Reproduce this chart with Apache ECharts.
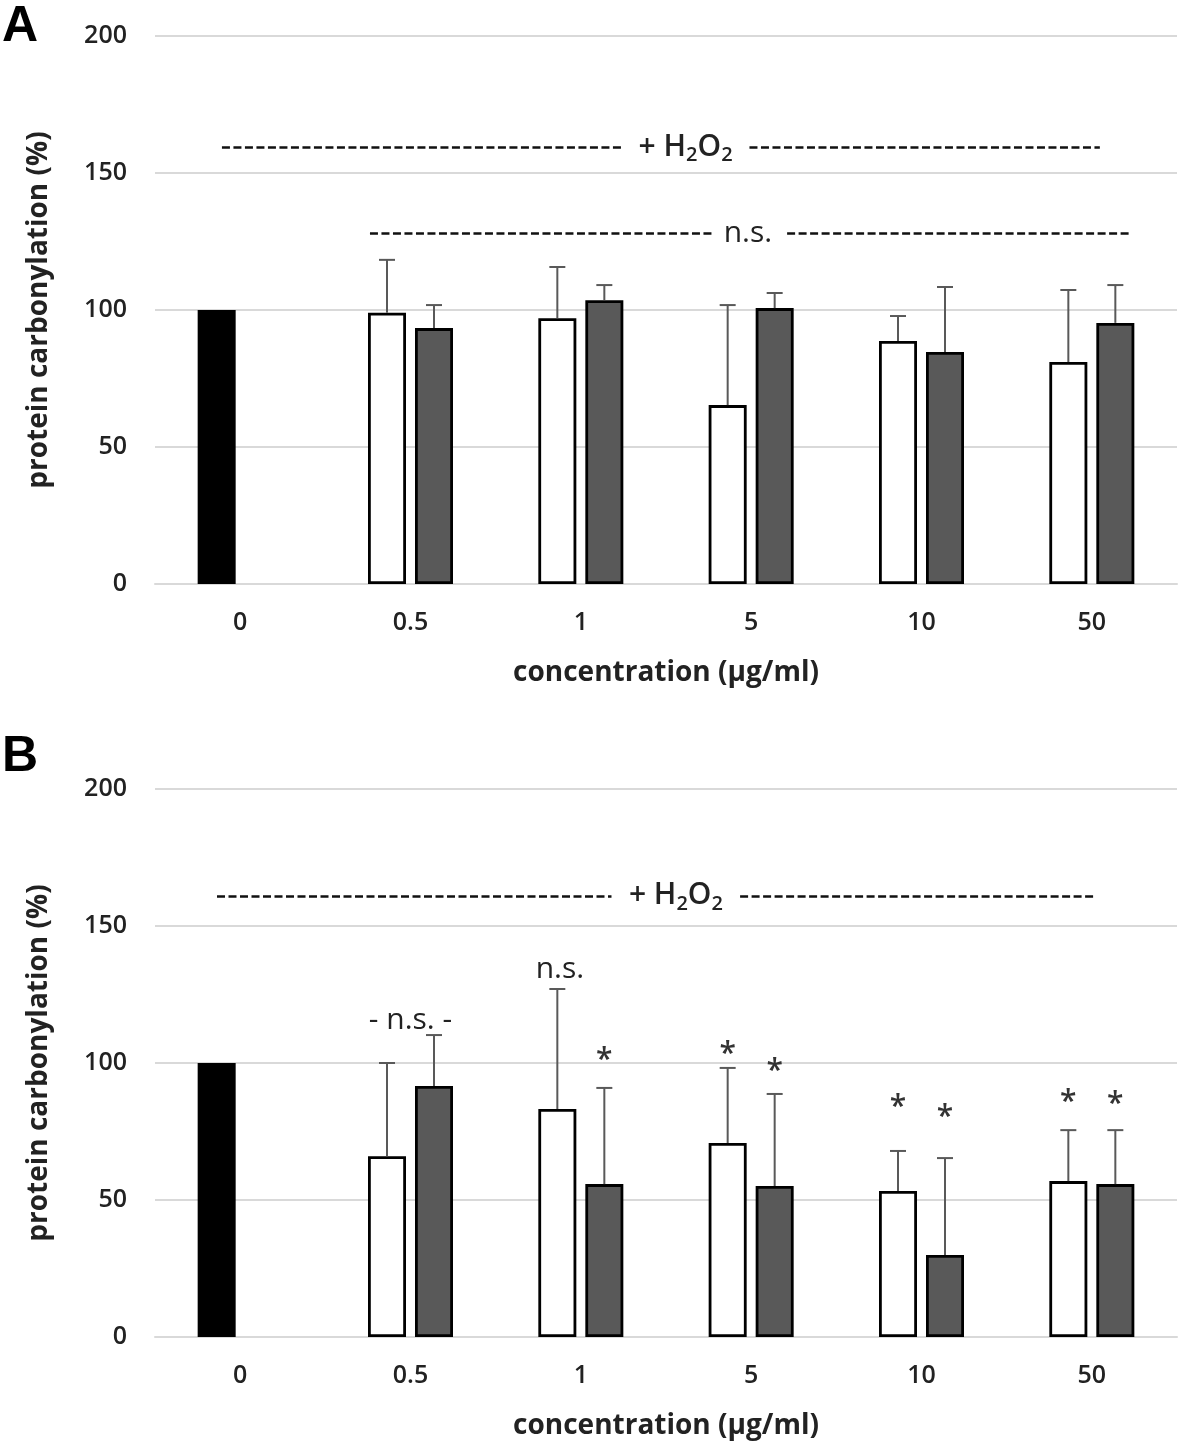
<!DOCTYPE html>
<html>
<head>
<meta charset="utf-8">
<script src="https://cdn.jsdelivr.net/npm/echarts@6/dist/echarts.min.js"></script>
<style>html,body{margin:0;padding:0;background:#fff}#c{width:1181px;height:1446px}</style>
</head>
<body>
<div id="c"></div>
<script>
// ---------- data ----------
var categories = ['0', '0.5', '1', '5', '10', '50'];
var yTicks = [0, 50, 100, 150, 200];

// Panel A
var controlA = [100, null, null, null, null, null];
var whiteA = [null, 99, 97, 65.3, 88.7, 81];
var whiteErrA = [null, 19.3, 18.7, 36.5, 9.1, 26.3];
var darkA = [null, 93.4, 103.6, 100.7, 84.7, 95.3];
var darkErrA = [null, 8.4, 5.5, 5.5, 23.7, 13.8];

// Panel B
var controlB = [100, null, null, null, null, null];
var whiteB = [null, 66, 83.2, 70.8, 53.3, 56.9];
var whiteErrB = [null, 34, 43.8, 27.4, 14.6, 18.6];
var darkB = [null, 91.6, 55.8, 55.1, 29.9, 55.8];
var darkErrB = [null, 18.6, 35.1, 33.6, 35.4, 19.7];

// significance stars in B: [category index, height, side (-1 white, 1 dark)]
var starsB = [[2, 103.6, 1], [3, 105.8, -1], [3, 99.3, 1], [4, 86.5, -1], [4, 82.8, 1], [5, 88.3, -1], [5, 87.6, 1]];

// annotations (hidden value x-axis, category i at x=i)
var dashA = [[-0.107, 2.255, 159.5], [2.99, 5.047, 159.5], [0.762, 2.77, 128], [3.211, 5.217, 128]];
var textA = [[2.615, 159.5, 'h2o2'], [2.981, 128, 'n.s.']];
var dashB = [[-0.136, 2.18, 161], [2.935, 5.018, 161]];
var textB = [[2.558, 161, 'h2o2'], [1.0, 115.7, '- n.s. -'], [1.877, 134, 'n.s.']];

// ---------- chart ----------
var FONT = 'Open Sans';
var BAR_W = 38, SIDE = 23.5;
var chart = echarts.init(document.getElementById('c'), null, {renderer: 'canvas'});

var grids = [
  {left: 155, top: 36, width: 1022, height: 548},
  {left: 155, top: 789, width: 1022, height: 548}
];

function catAxis(g) {
  return {
    type: 'category', gridIndex: g, data: categories,
    axisTick: {show: false},
    axisLine: {lineStyle: {color: '#d9d9d9', width: 2}},
    axisLabel: {fontFamily: FONT, fontSize: 25, fontWeight: 600, color: '#222', margin: 26},
    name: 'concentration (µg/ml)', nameLocation: 'middle', nameGap: 75,
    nameTextStyle: {fontFamily: FONT, fontSize: 28, fontWeight: 'bold', color: '#222'}
  };
}
function valXAxis(g) {
  return {type: 'value', gridIndex: g, min: -0.5, max: 5.5, show: false};
}
function yAxis(g) {
  return {
    type: 'value', gridIndex: g, min: 0, max: 200, interval: 50,
    axisLine: {show: false}, axisTick: {show: false},
    splitLine: {lineStyle: {color: '#d9d9d9', width: 2}},
    axisLabel: {fontFamily: FONT, fontSize: 25, fontWeight: 600, color: '#222', margin: 28,
      formatter: function (v) { return yTicks.indexOf(v) >= 0 ? String(v) : ''; }},
    name: 'protein carbonylation (%)', nameLocation: 'middle', nameGap: 102,
    nameTextStyle: {fontFamily: FONT, fontSize: 28, fontWeight: 'bold', color: '#222'}
  };
}

function zip(m, e) {
  var out = [];
  for (var i = 0; i < m.length; i++) if (m[i] != null) out.push([i, m[i], e[i]]);
  return out;
}

function errSeries(g, mean, err, side) {
  return {
    type: 'custom', xAxisIndex: g * 2, yAxisIndex: g, z: 5, silent: true,
    data: zip(mean, err),
    renderItem: function (params, api) {
      var top = api.coord([api.value(0), api.value(1) + api.value(2)]);
      var base = api.coord([api.value(0), api.value(1)]);
      var x = top[0] + side * SIDE;
      var st = {stroke: '#595959', lineWidth: 2};
      return {type: 'group', children: [
        {type: 'line', shape: {x1: x, y1: base[1], x2: x, y2: top[1]}, style: st},
        {type: 'line', shape: {x1: x - 8, y1: top[1], x2: x + 8, y2: top[1]}, style: st}
      ]};
    }
  };
}

function barSeries(g, data, color, stack) {
  return {
    type: 'bar', xAxisIndex: g * 2, yAxisIndex: g, data: data, stack: stack + g,
    barWidth: BAR_W, barGap: (9 / BAR_W * 100) + '%', silent: true,
    itemStyle: {color: color, borderColor: '#000', borderWidth: 2.8}
  };
}

function annotSeries(g, dashes, texts) {
  var lines = dashes.map(function (d) {
    return [{coord: [d[0], d[2]]}, {coord: [d[1], d[2]]}];
  });
  var points = texts.map(function (t) {
    return {coord: [t[0], t[1]], value: t[2]};
  });
  return {
    type: 'line', xAxisIndex: g * 2 + 1, yAxisIndex: g, data: [], silent: true,
    markLine: {
      symbol: ['none', 'none'], silent: true, animation: false,
      lineStyle: {color: '#111', width: 2.6, type: [8, 3.5]},
      label: {show: false}, data: lines
    },
    markPoint: {
      symbol: 'circle', symbolSize: 0, silent: true, animation: false,
      label: {
        show: true, position: 'inside', color: '#222', fontFamily: FONT,
        formatter: function (p) {
          if (p.value === 'h2o2') return '{a|+ H}{s|2}{a|O}{s|2}';
          return '{n|' + p.value + '}';
        },
        rich: {
          a: {fontFamily: FONT, fontSize: 30, fontWeight: 600, color: '#222', lineHeight: 34, verticalAlign: 'middle'},
          s: {fontFamily: FONT, fontSize: 20, fontWeight: 600, color: '#222', lineHeight: 34, padding: [16, 0, 0, 0], verticalAlign: 'middle'},
          n: {fontFamily: FONT, fontSize: 30, color: '#222', lineHeight: 34}
        }
      },
      data: points
    }
  };
}

var starSeries = {
  type: 'custom', xAxisIndex: 2, yAxisIndex: 1, z: 6, silent: true,
  data: starsB,
  renderItem: function (params, api) {
    var p = api.coord([api.value(0), api.value(1)]);
    return {type: 'text', style: {
      text: '*', x: p[0] + api.value(2) * SIDE, y: p[1] + 7,
      fontFamily: FONT, fontSize: 30, fontWeight: 600, fill: '#333', align: 'center', verticalAlign: 'middle'
    }};
  }
};

var option = {
  animation: false,
  backgroundColor: '#fff',
  grid: grids,
  xAxis: [catAxis(0), valXAxis(0), catAxis(1), valXAxis(1)],
  yAxis: [yAxis(0), yAxis(1)],
  graphic: [
    {type: 'text', left: 2, top: 2, style: {text: 'A', fontFamily: 'Liberation Sans', fontWeight: 'bold', fontSize: 50, fill: '#000'}},
    {type: 'text', left: 2, top: 732, style: {text: 'B', fontFamily: 'Liberation Sans', fontWeight: 'bold', fontSize: 50, fill: '#000'}}
  ],
  series: [
    barSeries(0, controlA, '#000', 'w'),
    barSeries(0, whiteA, '#fff', 'w'),
    barSeries(0, darkA, '#595959', 'd'),
    errSeries(0, whiteA, whiteErrA, -1),
    errSeries(0, darkA, darkErrA, 1),
    annotSeries(0, dashA, textA),
    barSeries(1, controlB, '#000', 'w'),
    barSeries(1, whiteB, '#fff', 'w'),
    barSeries(1, darkB, '#595959', 'd'),
    errSeries(1, whiteB, whiteErrB, -1),
    errSeries(1, darkB, darkErrB, 1),
    annotSeries(1, dashB, textB),
    starSeries
  ]
};
chart.setOption(option);
</script>
</body>
</html>
